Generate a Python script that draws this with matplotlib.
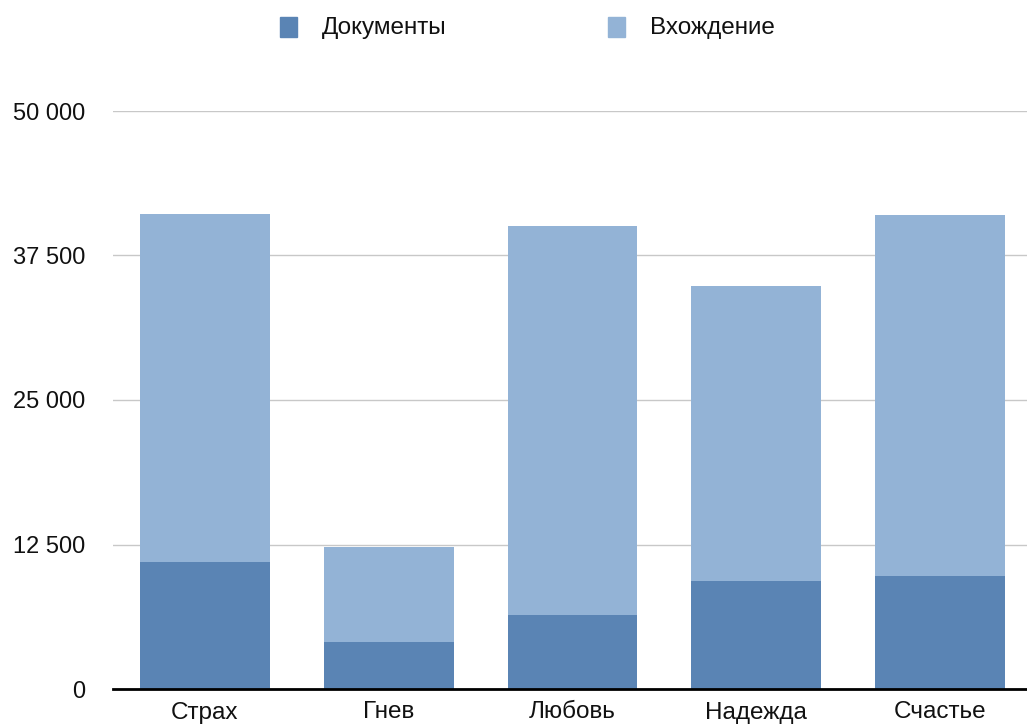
import matplotlib
matplotlib.use("Agg")
import matplotlib.pyplot as plt
from matplotlib.patches import Rectangle

# Data
categories = ["Страх", "Гнев", "Любовь", "Надежда", "Счастье"]
documents = [11000, 4100, 6400, 9300, 9800]
occurrences = [30100, 8200, 33650, 25550, 31200]
series_names = ["Документы", "Вхождение"]
y_ticks = [0, 12500, 25000, 37500, 50000]
y_tick_labels = ["0", "12 500", "25 000", "37 500", "50 000"]

dark = "#5a84b4"
light = "#93b3d6"

plt.rcParams["font.family"] = ["Liberation Sans", "DejaVu Sans"]

fig = plt.figure(figsize=(10.27, 7.26), dpi=100)
ax = fig.add_axes([113 / 1027, 37 / 726, 1 - 113 / 1027, 578 / 726])

x = list(range(len(categories)))
width = 0.707
ax.bar(x, documents, width=width, color=dark, zorder=3)
ax.bar(x, occurrences, width=width, bottom=documents, color=light, zorder=3)

ax.set_xlim(-0.5, 4.473)
ax.set_ylim(0, 50000)
ax.set_yticks(y_ticks)
ax.set_yticklabels(y_tick_labels)
ax.set_xticks(x)
ax.set_xticklabels(categories)

ax.grid(axis="y", color="#c8c8c8", linewidth=1, zorder=0)
ax.set_axisbelow(True)
for side in ["top", "right", "left"]:
    ax.spines[side].set_visible(False)
ax.spines["bottom"].set_color("black")
ax.spines["bottom"].set_linewidth(2)
ax.spines["bottom"].set_zorder(5)

ax.tick_params(axis="y", length=0, pad=20, labelsize=17, labelcolor="#111111")
ax.tick_params(axis="x", length=0, pad=9, labelsize=17.5, labelcolor="#111111")
for lbl in ax.get_yticklabels():
    lbl.set_clip_on(False)

# Legend drawn along the top of the figure
legend_items = [(280, series_names[0], dark), (608, series_names[1], light)]
for px, name, col in legend_items:
    fig.add_artist(Rectangle((px / 1027, (726 - 37) / 726), 17 / 1027, 20 / 726,
                             transform=fig.transFigure, color=col))
    fig.text((px + 42) / 1027, (726 - 28) / 726, name, fontsize=17.5,
             va="center", ha="left", color="#111111")

fig.savefig("out.png", dpi=100)
